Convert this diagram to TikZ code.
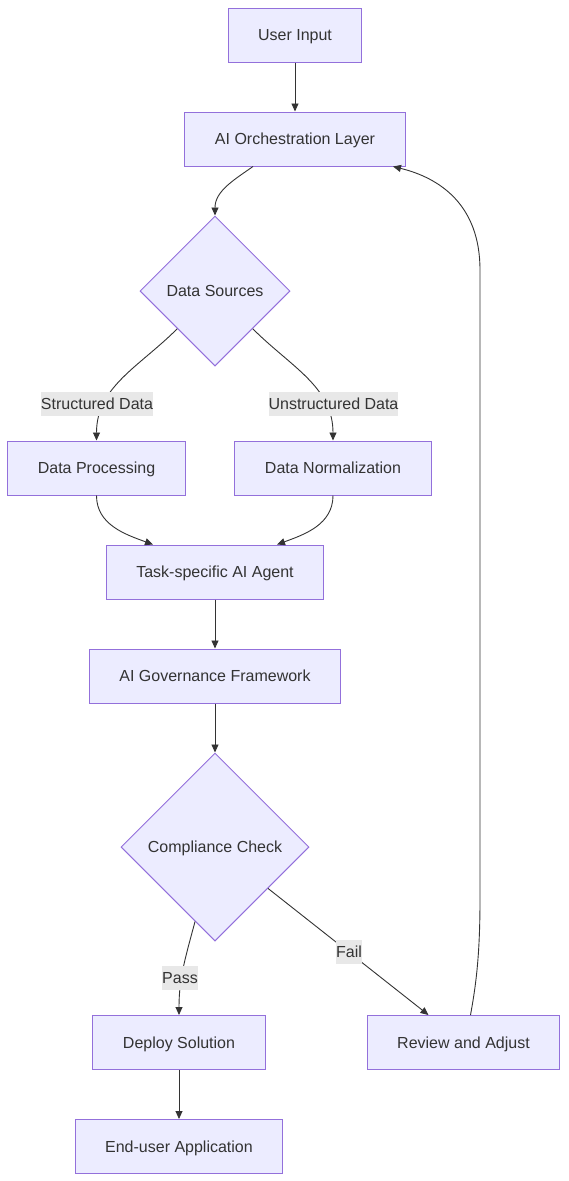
\documentclass[tikz,border=0pt]{standalone}
\usepackage{fontspec}
\setmainfont{Liberation Sans}
\usepackage{tikz}
\usetikzlibrary{arrows.meta,shapes.geometric}
\definecolor{boxfill}{HTML}{ECECFF}
\definecolor{boxline}{HTML}{9370DB}
\definecolor{ink}{HTML}{333333}
\definecolor{lblfill}{HTML}{E8E8E8}

\begin{document}
\begin{tikzpicture}[x=1pt,y=1pt,>={Triangle[length=8pt,width=7pt]},
    every node/.style={font=\fontsize{16}{19}\selectfont,text=ink,text height=11pt,text depth=0pt},
    box/.style={draw=boxline,fill=boxfill,line width=1pt,minimum height=54pt,inner xsep=30pt},
    decision/.style={diamond,aspect=1,draw=boxline,fill=boxfill,line width=1pt,inner sep=0pt},
    flow/.style={->,draw=ink,line width=0.9pt},
    lbl/.style={fill=lblfill,inner xsep=0pt,inner ysep=0pt,minimum height=24pt}]
    \useasboundingbox (0,0) rectangle (568,-1181);
    \node[box] (user) at (295,-35) {User Input};
    \node[box] (orch) at (295,-139) {AI Orchestration Layer};
    \node[decision,minimum size=150pt] (src) at (215,-291) {Data Sources};
    \node[box] (proc) at (96.5,-468) {Data Processing};
    \node[box] (norm) at (333,-468) {Data Normalization};
    \node[box] (agent) at (215,-572) {Task-specific AI Agent};
    \node[box] (gov) at (215,-676) {AI Governance Framework};
    \node[decision,minimum size=188pt] (check) at (215,-847) {Compliance Check};
    \node[box] (deploy) at (179,-1042.5) {Deploy Solution};
    \node[box] (review) at (463.5,-1042.5) {Review and Adjust};
    \node[box] (enduser) at (179,-1146.5) {End-user Application};

    \draw[flow] (user) -- (orch);
    \draw[flow] ([xshift=-42pt]orch.south) to[out=215,in=90] (src.north);
    \draw[flow] (src.south west) to[out=225,in=90] (proc.north);
    \draw[flow] (src.south east) to[out=-45,in=90] (norm.north);
    \draw[flow] (proc.south) to[out=-90,in=160] ([xshift=-62pt]agent.north);
    \draw[flow] (norm.south) to[out=-90,in=20] ([xshift=62pt]agent.north);
    \draw[flow] (agent) -- (gov);
    \draw[flow] (gov) -- (check);
    \draw[flow] (check.255) to[out=255,in=90] (deploy.north);
    \draw[flow] (check.-38) -- ([xshift=-35pt]review.north);
    \draw[flow] (deploy) -- (enduser);
    \draw[flow] ([xshift=7pt]review.north) .. controls (475,-990) and (480,-960) .. (480,-900)
        -- (480,-270) .. controls (480,-205) and (440,-178) .. ([xshift=98pt]orch.south);

    \node[lbl] (lstruct) at (97,-404) {Structured Data};
    \node[lbl] (lunstruct) at (333.5,-404) {Unstructured Data};
    \node[lbl] (lpass) at (180,-978) {Pass};
    \node[lbl] (lfail) at (349,-951.5) {Fail};
\end{tikzpicture}
\end{document}
